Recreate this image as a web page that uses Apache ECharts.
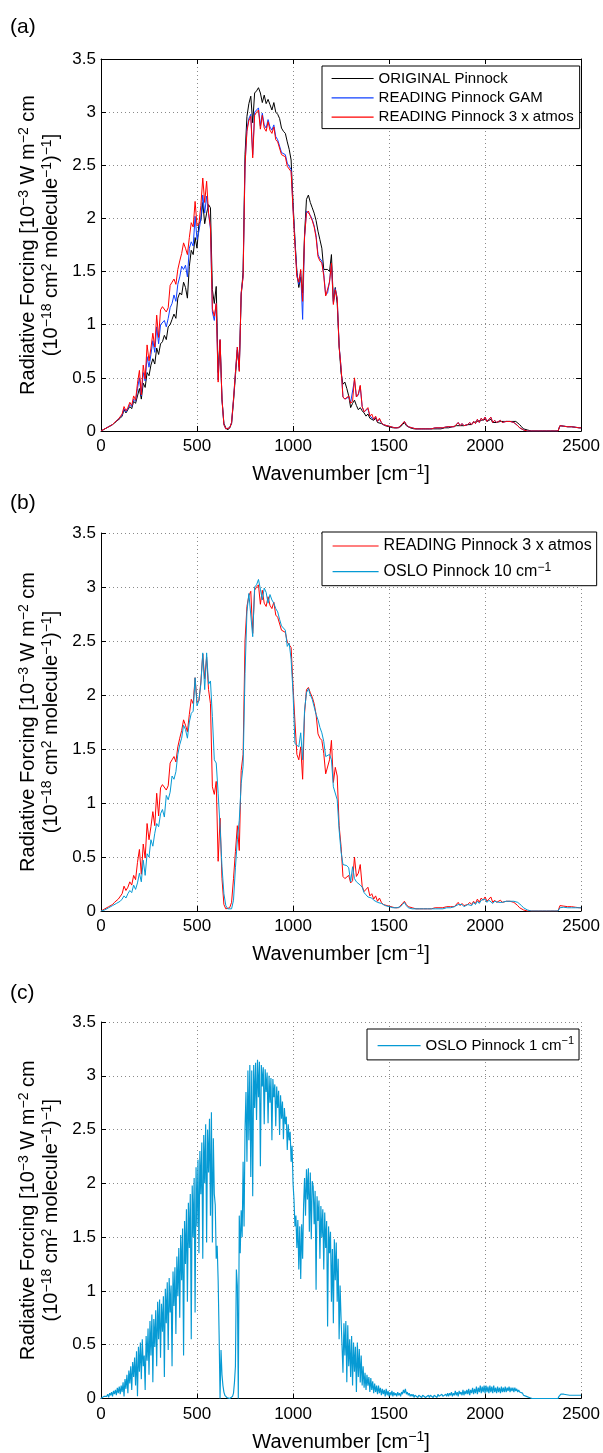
<!DOCTYPE html>
<html>
<head>
<meta charset="utf-8">
<script src="https://cdn.jsdelivr.net/npm/echarts@6/dist/echarts.min.js"></script>
<style>
html,body{margin:0;padding:0;background:#fff;}
#chart{width:603px;height:1453px;}
</style>
</head>
<body>
<div id="chart"></div>
<script>
// ---------- DATA ----------
// Wavenumber sampling grids (cm^-1)
const wavenumber10 = Array.from({length: 251}, (_, i) => i * 10);
const wavenumber5 = Array.from({length: 501}, (_, i) => i * 5);

const xTicks = [0, 500, 1000, 1500, 2000, 2500];
const yTicks = [0, 0.5, 1, 1.5, 2, 2.5, 3, 3.5];

// Panel (a): ORIGINAL Pinnock (10 cm^-1)
const originalPinnock = [
0,0.01,0.02,0.03,0.04,0.05,0.06,0.07,0.09,0.10,
0.12,0.14,0.20,0.17,0.20,0.23,0.21,0.28,0.26,0.33,
0.40,0.30,0.45,0.41,0.55,0.52,0.62,0.68,0.63,0.78,
0.72,0.82,0.84,0.90,0.86,0.98,1.00,1.05,1.10,1.06,
1.25,1.30,1.28,1.40,1.35,1.25,1.55,1.70,1.66,1.82,
1.72,1.95,1.98,2.15,1.95,2.05,2.13,2.10,1.33,1.20,
1.36,0.55,0.85,0.30,0.07,0.03,0.01,0.03,0.07,0.28,
0.52,0.76,0.60,1.27,1.50,2.60,2.96,3.08,3.15,2.90,
3.18,3.20,3.23,3.18,3.09,3.16,3.08,3.12,3.07,3.02,
3.09,3.00,2.98,2.94,2.85,2.82,2.80,2.72,2.65,2.55,
2.15,1.80,1.50,1.35,1.45,1.30,1.85,2.18,2.22,2.15,
2.10,2.05,1.98,1.88,1.80,1.72,1.52,1.52,1.52,1.50,
1.66,1.22,1.35,1.20,0.80,0.55,0.44,0.46,0.40,0.33,
0.22,0.26,0.29,0.24,0.20,0.22,0.19,0.17,0.14,0.16,
0.12,0.13,0.10,0.12,0.08,0.09,0.07,0.06,0.05,0.05,
0.04,0.04,0.03,0.03,0.03,0.03,0.04,0.06,0.08,0.05,
0.04,0.03,0.03,0.02,0.02,0.02,0.02,0.02,0.02,0.02,
0.02,0.02,0.02,0.02,0.03,0.02,0.02,0.02,0.03,0.03,
0.03,0.03,0.04,0.04,0.04,0.05,0.06,0.05,0.06,0.05,
0.06,0.06,0.07,0.06,0.08,0.07,0.09,0.08,0.10,0.09,
0.11,0.09,0.10,0.11,0.08,0.09,0.08,0.09,0.09,0.08,
0.09,0.09,0.09,0.09,0.09,0.09,0.09,0.08,0.06,0.04,
0.02,0.01,0.01,0,0,0,0,0,0,0,
0,0,0,0,0,0,0,0,0,0.05,
0.05,0.045,0.045,0.04,0.04,0.04,0.035,0.035,0.03,0.03,0.03
];

// Panel (a): READING Pinnock GAM (10 cm^-1)
const readingGam = [
0,0.01,0.02,0.03,0.04,0.05,0.06,0.08,0.09,0.11,
0.12,0.15,0.21,0.18,0.21,0.25,0.23,0.30,0.28,0.40,
0.50,0.33,0.55,0.47,0.70,0.60,0.72,0.85,0.74,0.98,
0.82,1.00,1.00,1.04,0.98,1.06,1.16,1.20,1.28,1.22,
1.38,1.45,1.55,1.52,1.56,1.45,1.72,1.78,1.74,2.02,
1.80,1.88,2.00,2.22,2.05,2.21,2.05,1.90,1.12,1.04,
1.20,0.48,0.86,0.30,0.06,0.02,0.01,0.03,0.08,0.30,
0.55,0.79,0.57,1.30,1.45,2.50,2.84,2.94,2.98,2.60,
3.00,3.02,3.04,2.87,2.99,2.88,2.85,2.93,2.86,2.83,
2.88,2.77,2.74,2.73,2.62,2.62,2.60,2.52,2.52,2.46,
2.10,1.78,1.48,1.38,1.50,1.05,1.82,2.07,2.08,2.03,
1.99,1.93,1.84,1.66,1.62,1.60,1.48,1.28,1.30,1.41,
1.58,1.20,1.34,1.25,0.80,0.60,0.32,0.30,0.30,0.32,
0.27,0.28,0.48,0.32,0.34,0.42,0.23,0.18,0.17,0.21,
0.14,0.15,0.11,0.13,0.09,0.11,0.08,0.06,0.06,0.05,
0.04,0.04,0.04,0.03,0.03,0.03,0.04,0.07,0.09,0.06,
0.04,0.03,0.03,0.02,0.02,0.02,0.02,0.02,0.02,0.02,
0.02,0.03,0.02,0.02,0.03,0.02,0.03,0.02,0.03,0.03,
0.04,0.03,0.04,0.05,0.04,0.05,0.08,0.05,0.07,0.05,
0.06,0.06,0.08,0.06,0.09,0.07,0.11,0.08,0.12,0.10,
0.13,0.09,0.11,0.13,0.08,0.10,0.08,0.09,0.10,0.08,
0.09,0.09,0.09,0.09,0.09,0.08,0.07,0.05,0.03,0.02,
0.01,0.01,0,0,0,0,0,0,0,0,
0,0,0,0,0,0,0,0,0,0.05,
0.05,0.045,0.045,0.04,0.04,0.04,0.035,0.035,0.03,0.03,0.03
];

// Panels (a) and (b): READING Pinnock 3 x atmos (10 cm^-1)
const reading3xAtmos = [
0,0.01,0.02,0.03,0.04,0.05,0.06,0.08,0.09,0.11,
0.12,0.16,0.23,0.19,0.22,0.27,0.24,0.33,0.29,0.45,
0.57,0.34,0.62,0.49,0.81,0.66,0.78,0.92,0.79,1.09,
0.88,1.14,1.17,1.18,1.12,1.16,1.37,1.40,1.43,1.38,
1.52,1.60,1.67,1.77,1.72,1.66,1.82,1.96,1.92,2.16,
1.93,1.95,2.12,2.38,2.15,2.35,2.05,1.92,1.15,1.08,
1.20,0.46,0.86,0.30,0.06,0.02,0.01,0.03,0.08,0.30,
0.55,0.79,0.56,1.30,1.45,2.50,2.82,2.92,2.96,2.57,
2.97,3.00,3.02,2.84,2.97,2.85,2.82,2.91,2.83,2.80,
2.86,2.74,2.72,2.71,2.60,2.60,2.58,2.49,2.50,2.44,
2.08,1.75,1.45,1.40,1.52,1.22,1.83,2.05,2.07,2.02,
1.98,1.92,1.82,1.64,1.60,1.58,1.46,1.27,1.28,1.40,
1.58,1.19,1.33,1.25,0.79,0.60,0.32,0.30,0.29,0.33,
0.26,0.28,0.50,0.32,0.35,0.43,0.23,0.18,0.17,0.22,
0.14,0.16,0.11,0.14,0.09,0.12,0.08,0.06,0.06,0.05,
0.04,0.04,0.04,0.03,0.03,0.03,0.04,0.07,0.09,0.06,
0.04,0.03,0.03,0.02,0.02,0.02,0.02,0.02,0.02,0.02,
0.02,0.03,0.02,0.02,0.03,0.02,0.03,0.02,0.03,0.03,
0.04,0.03,0.04,0.05,0.04,0.05,0.08,0.05,0.07,0.05,
0.06,0.06,0.08,0.06,0.09,0.07,0.11,0.08,0.12,0.10,
0.13,0.09,0.11,0.13,0.08,0.10,0.08,0.09,0.10,0.08,
0.09,0.09,0.09,0.09,0.09,0.08,0.07,0.05,0.03,0.02,
0.01,0.01,0,0,0,0,0,0,0,0,
0,0,0,0,0,0,0,0,0,0.05,
0.05,0.045,0.045,0.04,0.04,0.04,0.035,0.035,0.03,0.03,0.03
];

// Panel (b): OSLO Pinnock 10 cm^-1
const oslo10 = [
0,0.005,0.01,0.02,0.03,0.04,0.05,0.06,0.07,0.08,
0.09,0.11,0.14,0.12,0.16,0.19,0.17,0.24,0.20,0.26,
0.35,0.27,0.47,0.33,0.53,0.50,0.66,0.60,0.72,0.81,
0.78,0.90,0.94,0.87,1.07,1.03,1.10,1.25,1.22,1.29,
1.45,1.54,1.60,1.72,1.68,1.60,1.75,1.83,1.85,2.16,
1.90,1.95,2.10,2.39,2.05,2.39,2.10,2.13,1.80,1.40,
1.37,1.09,0.78,0.41,0.16,0.05,0.02,0.01,0.02,0.10,
0.40,0.66,0.84,1.18,1.34,2.20,2.77,2.94,2.94,2.54,
3.00,3.02,3.07,2.98,2.88,2.99,2.95,2.85,2.93,2.88,
2.85,2.80,2.77,2.70,2.64,2.64,2.60,2.45,2.48,2.33,
2.02,1.55,1.55,1.52,1.65,1.40,1.86,2.02,2.06,2.00,
1.96,1.89,1.82,1.77,1.70,1.65,1.57,1.43,1.43,1.45,
1.40,1.15,1.15,1.03,0.75,0.55,0.43,0.43,0.42,0.40,
0.27,0.41,0.30,0.27,0.26,0.24,0.22,0.17,0.15,0.13,
0.12,0.12,0.10,0.10,0.08,0.08,0.07,0.06,0.05,0.04,
0.04,0.03,0.03,0.03,0.03,0.03,0.04,0.06,0.08,0.05,
0.03,0.02,0.02,0.02,0.02,0.01,0.02,0.01,0.02,0.02,
0.02,0.02,0.02,0.02,0.02,0.02,0.02,0.02,0.02,0.03,
0.03,0.03,0.03,0.04,0.04,0.04,0.06,0.05,0.06,0.04,
0.05,0.06,0.07,0.05,0.08,0.06,0.09,0.07,0.10,0.09,
0.11,0.08,0.10,0.11,0.07,0.09,0.08,0.08,0.09,0.08,
0.08,0.09,0.09,0.09,0.09,0.09,0.09,0.08,0.07,0.05,
0.03,0.02,0.01,0,0,0,0,0,0,0,
0,0,0,0,0,0,0,0,0,0.03,
0.035,0.035,0.035,0.03,0.03,0.03,0.03,0.03,0.03,0.03,0.03
];

// Panel (c): OSLO Pinnock 1 cm^-1 (read every 5 cm^-1)
const oslo1 = [
0,0.01,0.01,0.02,0.01,0.03,0.02,0.04,0.01,0.05,0.03,0.06,0.02,0.07,0.04,0.08,0.03,0.10,0.05,0.11,0.04,
0.12,0.06,0.15,0.02,0.18,0.09,0.22,0.05,0.26,0.14,0.30,0.08,0.34,0.20,0.38,0.12,0.44,0.02,0.48,0.25,
0.52,0.18,0.55,0.30,0.40,0.08,0.58,0.35,0.65,0.22,0.72,0.40,0.78,0.15,0.74,0.48,0.82,0.30,0.90,0.55,
0.92,0.38,0.88,0.62,0.95,0.20,1.02,0.70,1.08,0.45,1.12,0.80,1.05,0.30,1.18,0.86,1.22,0.60,1.32,0.95,
1.40,0.75,1.52,1.10,1.58,0.40,1.65,1.25,1.76,0.90,1.82,1.40,1.90,0.55,1.98,1.50,2.05,0.80,2.15,1.60,
2.22,1.35,2.30,1.90,2.38,1.30,2.45,2.00,2.55,1.45,2.50,2.10,2.60,1.70,2.66,1.45,2.42,1.90,1.80,1.30,
1.42,1.10,0.60,0.00,0.45,0.22,0.12,0.06,0.03,0.02,0.01,0.00,0.00,0.00,0.01,0.01,0.02,0.05,0.15,0.30,
1.20,1.05,0.00,1.70,1.35,1.75,1.50,2.20,1.60,2.50,2.85,2.20,3.05,2.40,3.10,2.06,3.05,1.88,3.10,2.70,
3.12,2.59,3.15,2.80,3.13,2.16,3.10,2.90,3.08,2.55,3.06,2.85,3.03,2.56,3.00,2.75,2.98,2.40,2.97,2.80,
2.92,2.53,2.90,2.70,2.86,2.45,2.82,2.60,2.76,2.41,2.70,2.55,2.62,2.31,2.55,2.40,2.48,2.20,2.35,2.00,
1.85,1.60,1.70,1.40,1.66,1.20,1.60,1.11,1.62,1.30,1.80,2.05,1.70,2.13,1.85,2.14,1.55,2.10,1.48,2.02,
1.97,1.62,1.93,1.01,1.88,1.65,1.84,1.30,1.79,1.50,1.76,1.20,1.73,1.40,1.65,0.67,1.60,1.35,1.55,0.90,
1.39,0.70,1.48,1.10,1.45,0.90,1.30,0.55,1.05,0.75,0.74,0.24,0.70,0.40,0.72,0.15,0.68,0.30,0.55,0.20,
0.58,0.12,0.52,0.25,0.48,0.06,0.52,0.20,0.46,0.15,0.40,0.12,0.30,0.10,0.24,0.08,0.22,0.12,0.20,0.06,
0.19,0.08,0.16,0.05,0.14,0.06,0.12,0.04,0.12,0.05,0.10,0.03,0.09,0.04,0.08,0.02,0.09,0.03,0.07,0.02,
0.06,0.03,0.07,0.02,0.06,0.03,0.05,0.02,0.06,0.03,0.05,0.02,0.06,0.04,0.08,0.05,0.09,0.04,0.06,0.03,
0.05,0.02,0.04,0.02,0.04,0.01,0.03,0.02,0.04,0.01,0.03,0.02,0.03,0.01,0.03,0.02,0.03,0.01,0.02,0.02,
0.03,0.01,0.03,0.02,0.04,0.01,0.03,0.02,0.03,0.01,0.04,0.02,0.03,0.01,0.04,0.02,0.03,0.02,0.04,0.02,
0.05,0.02,0.05,0.03,0.06,0.02,0.05,0.03,0.07,0.03,0.06,0.02,0.07,0.04,0.06,0.03,0.08,0.03,0.07,0.04,
0.08,0.04,0.09,0.03,0.08,0.05,0.10,0.04,0.09,0.05,0.11,0.04,0.10,0.06,0.12,0.05,0.11,0.06,0.12,0.05,
0.12,0.06,0.11,0.05,0.12,0.06,0.11,0.05,0.12,0.06,0.10,0.05,0.11,0.06,0.10,0.05,0.11,0.06,0.10,0.06,
0.11,0.06,0.10,0.07,0.11,0.06,0.10,0.07,0.10,0.06,0.10,0.07,0.09,0.06,0.08,0.06,0.07,0.05,0.05,0.03,
0.03,0.02,0.02,0.01,0.01,0.01,0,0,0,0,0,0,0,0,0,0,0,0,0,0,
0,0,0,0,0,0,0,0,0,0,0,0,0,0,0,0,0.02,0.035,0.04,0.04,
0.04,0.04,0.04,0.035,0.035,0.035,0.035,0.03,0.03,0.03,0.03,0.03,0.03,0.03,0.03,0.03,0.03,0.03,0.03,0.03
];

// ---------- CHART ----------
const FONT = '"Liberation Sans", Arial, Helvetica, sans-serif';
const C_BLACK = '#000000', C_BLUE = '#1040ff', C_RED = '#ff0000', C_CYAN = '#069ad4';

const pairs = (xs, ys) => xs.map((x, i) => [x, ys[i]]);

const nameRich = {
  t: {fontSize: 20, fontFamily: FONT, color: '#000', lineHeight: 23},
  s: {fontSize: 14, fontFamily: FONT, color: '#000', verticalAlign: 'top'}
};
const yName = '{t|Radiative Forcing [10}{s|−3}{t| W m}{s|−2}{t| cm}\n{t|(10}{s|−18}{t| cm}{s|2}{t| molecule}{s|−1}{t|)}{s|−1}{t|]}';
const xName = '{t|Wavenumber [cm}{s|−1}{t|]}';

const grids = [
  {left: 101, top: 59, width: 481.5, height: 372},
  {left: 101, top: 533, width: 481.5, height: 378},
  {left: 101, top: 1022, width: 481.5, height: 377.5}
];

function mainX(gi) {
  return {
    type: 'value', gridIndex: gi, min: xTicks[0], max: xTicks[xTicks.length - 1], interval: 500,
    position: 'bottom',
    axisLine: {show: true, onZero: false, lineStyle: {color: '#000', width: 1}},
    axisTick: {show: true, inside: true, length: 5, lineStyle: {color: '#000'}},
    axisLabel: {show: true, color: '#000', fontSize: 17, fontFamily: FONT, margin: 7, formatter: v => String(v)},
    splitLine: {show: true, lineStyle: {color: '#8a8a8a', width: 1, type: [1, 3]}},
    name: xName, nameLocation: 'middle', nameGap: 32,
    nameTextStyle: {rich: nameRich}
  };
}
function mainY(gi) {
  return {
    type: 'value', gridIndex: gi, min: yTicks[0], max: yTicks[yTicks.length - 1], interval: 0.5,
    position: 'left',
    axisLine: {show: true, onZero: false, lineStyle: {color: '#000', width: 1}},
    axisTick: {show: true, inside: true, length: 5, lineStyle: {color: '#000'}},
    axisLabel: {show: true, color: '#000', fontSize: 17, fontFamily: FONT, margin: 5, formatter: v => String(v)},
    splitLine: {show: true, lineStyle: {color: '#8a8a8a', width: 1, type: [1, 3]}},
    name: yName, nameLocation: 'middle', nameGap: 38, nameRotate: 90,
    nameTextStyle: {rich: nameRich, align: 'center'}
  };
}

const legendNames = {
  'ORIGINAL Pinnock': 'ORIGINAL Pinnock',
  'READING Pinnock GAM': 'READING Pinnock GAM',
  'READING Pinnock 3 x atmos': 'READING Pinnock 3 x atmos',
  'READING Pinnock 3 x atmos (b)': 'READING Pinnock 3 x atmos',
  'OSLO Pinnock 10 cm-1': '{t|OSLO Pinnock 10 cm}{s|−1}',
  'OSLO Pinnock 1 cm-1': '{t|OSLO Pinnock 1 cm}{s|−1}'
};
function legendRich(fs) {
  return {
    t: {fontSize: fs, fontFamily: FONT, color: '#000', lineHeight: 14},
    s: {fontSize: Math.round(fs * 0.75), fontFamily: FONT, color: '#000', verticalAlign: 'top', padding: [-3, 0, 0, 0]}
  };
}
function legend(data, left, top, padding, itemWidth, itemGap, fs) {
  return {
    orient: 'vertical', left: left, top: top, data: data,
    padding: padding, itemWidth: itemWidth, itemHeight: 14, itemGap: itemGap,
    backgroundColor: '#fff', borderColor: '#000', borderWidth: 1, borderRadius: 0,
    selectedMode: false,
    itemStyle: {opacity: 0},
    lineStyle: {width: 1.2},
    textStyle: {fontSize: fs, fontFamily: FONT, color: '#000', lineHeight: 14, rich: legendRich(fs)},
    formatter: n => legendNames[n] || n
  };
}

function lineSeries(name, xi, yi, xs, ys, color, z, w) {
  return {
    name: name, type: 'line', xAxisIndex: xi, yAxisIndex: yi,
    data: pairs(xs, ys), symbol: 'none', showSymbol: false, smooth: false,
    lineStyle: {color: color, width: w || 1}, itemStyle: {color: color}, z: z,
    emphasis: {disabled: true}
  };
}

const option = {
  animation: false,
  backgroundColor: '#fff',
  grid: grids,
  xAxis: [
    mainX(0),
    {type: 'value', gridIndex: 0, min: 0, max: 2500, interval: 500, position: 'top',
     axisLine: {show: true, onZero: false, lineStyle: {color: '#000', width: 1}},
     axisTick: {show: true, inside: true, length: 5, lineStyle: {color: '#000'}},
     axisLabel: {show: false}, splitLine: {show: false}},
    mainX(1),
    mainX(2)
  ],
  yAxis: [
    mainY(0),
    {type: 'value', gridIndex: 0, min: 0, max: 3.5, interval: 0.5, position: 'right',
     axisLine: {show: true, onZero: false, lineStyle: {color: '#000', width: 1}},
     axisTick: {show: true, inside: true, length: 5, lineStyle: {color: '#000'}},
     axisLabel: {show: false}, splitLine: {show: false}},
    mainY(1),
    mainY(2)
  ],
  legend: [
    legend(['ORIGINAL Pinnock', 'READING Pinnock GAM', 'READING Pinnock 3 x atmos'], 322, 66, [5, 6, 4, 9], 42, 4.3, 15),
    legend(['READING Pinnock 3 x atmos (b)', 'OSLO Pinnock 10 cm-1'], 322, 532, [6, 5, 6, 10], 46, 7.7, 16),
    legend(['OSLO Pinnock 1 cm-1'], 367, 1029, [6.7, 5, 6.7, 10], 43, 5, 15)
  ],
  graphic: [
    {type: 'text', left: 10, top: 17, style: {text: '(a)', fontSize: 21, fontFamily: FONT, fill: '#000'}},
    {type: 'text', left: 10, top: 493, style: {text: '(b)', fontSize: 21, fontFamily: FONT, fill: '#000'}},
    {type: 'text', left: 10, top: 983, style: {text: '(c)', fontSize: 21, fontFamily: FONT, fill: '#000'}}
  ],
  series: [
    lineSeries('ORIGINAL Pinnock', 0, 0, wavenumber10, originalPinnock, C_BLACK, 2),
    lineSeries('READING Pinnock GAM', 0, 0, wavenumber10, readingGam, C_BLUE, 3),
    lineSeries('READING Pinnock 3 x atmos', 0, 0, wavenumber10, reading3xAtmos, C_RED, 4),
    lineSeries('READING Pinnock 3 x atmos (b)', 2, 2, wavenumber10, reading3xAtmos, C_RED, 2),
    lineSeries('OSLO Pinnock 10 cm-1', 2, 2, wavenumber10, oslo10, C_CYAN, 3),
    lineSeries('OSLO Pinnock 1 cm-1', 3, 3, wavenumber5, oslo1, C_CYAN, 2, 1.15)
  ]
};

const chart = echarts.init(document.getElementById('chart'), null, {renderer: 'canvas', width: 603, height: 1453});
chart.setOption(option);
</script>
</body>
</html>
